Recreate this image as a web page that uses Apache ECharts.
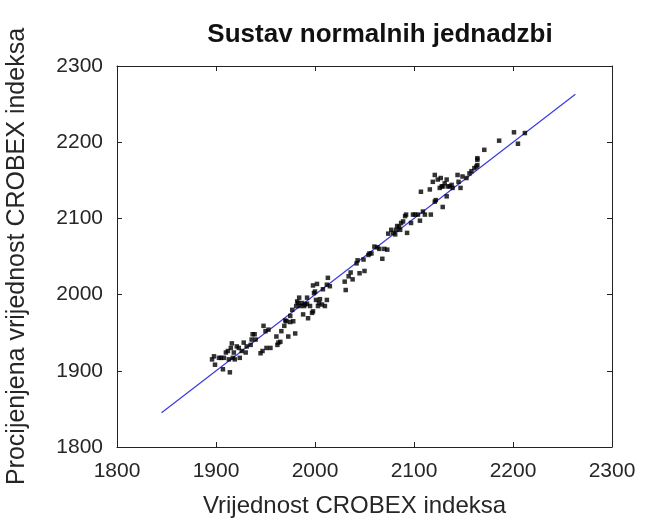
<!DOCTYPE html>
<html>
<head>
<meta charset="utf-8">
<script src="https://cdn.jsdelivr.net/npm/echarts@6/dist/echarts.min.js"></script>
<style>
  html, body { margin: 0; padding: 0; background: #fff; }
  #chart { width: 659px; height: 520px; }
</style>
</head>
<body>
<div id="chart"></div>
<script>
var actual = [1896, 1898, 1899, 1903, 1905, 1907, 1908, 1910, 1912, 1913, 1914, 1915, 1916, 1917, 1918, 1919, 1921, 1923, 1924, 1926,
    1928, 1930, 1931, 1935, 1936, 1937, 1939, 1940, 1945, 1947, 1948, 1950, 1951, 1953, 1955, 1961, 1962, 1963, 1965, 1966,
    1969, 1970, 1971, 1973, 1975, 1977, 1975, 1978, 1980, 1981, 1982, 1983, 1984, 1985, 1987, 1988, 1989, 1990, 1992, 1992,
    1993, 1995, 1997, 1998, 1999, 2000, 1998, 2001, 2002, 2003, 2004, 2005, 2007, 2008, 2010, 2012, 2012, 2013, 2015,
    2030, 2031, 2034, 2036, 2038, 2042, 2043, 2045, 2049, 2050, 2054, 2055, 2057, 2060, 2063, 2065, 2068, 2070, 2073, 2074,
    2077, 2079, 2081, 2082, 2083, 2085, 2086, 2087, 2089, 2091, 2092, 2093, 2097, 2099, 2101, 2104, 2106, 2109, 2111, 2117,
    2107, 2116, 2119, 2121, 2121, 2122, 2124, 2126, 2127, 2128, 2129, 2129, 2131, 2133, 2133, 2134, 2136, 2138, 2139, 2144,
    2145, 2147, 2149, 2153, 2156, 2158, 2161, 2163, 2164, 2164, 2164, 2171, 2186, 2201, 2205, 2212];
var estimated = [1915, 1919, 1908, 1917, 1917, 1902, 1917, 1924, 1926, 1915, 1898, 1930, 1936, 1917, 1924, 1915, 1932, 1930, 1917, 1926,
    1937, 1924, 1932, 1934, 1941, 1948, 1948, 1941, 1923, 1926, 1959, 1952, 1930, 1954, 1930, 1945, 1934, 1937, 1938, 1952,
    1959, 1966, 1965, 1945, 1972, 1980, 1964, 1965, 1949, 1985, 1991, 1989, 1996, 1985, 1989, 1974, 1985, 1987, 1988, 1996,
    1969, 1985, 1976, 1978, 2002, 2004, 2012, 1993, 2014, 1985, 1989, 1994, 1987, 2007, 1985, 1993, 2013, 2022, 2011,
    2017, 2006, 2024, 2029, 2020, 2041, 2045, 2028, 2046, 2031, 2052, 2054, 2054, 2063, 2062, 2060, 2047, 2060, 2059, 2080,
    2085, 2081, 2079, 2085, 2090, 2089, 2085, 2094, 2096, 2103, 2105, 2081, 2094, 2105, 2105, 2105, 2097, 2109, 2105, 2105,
    2135, 2138, 2148, 2157, 2122, 2124, 2151, 2140, 2153, 2142, 2142, 2115, 2146, 2129, 2151, 2142, 2142, 2144, 2140, 2157,
    2148, 2140, 2155, 2153, 2159, 2162, 2166, 2168, 2177, 2179, 2170, 2190, 2202, 2213, 2198, 2212];
var fitLine = [[1845, 1845], [2263, 2263]];
var axisTicks = [1800, 1900, 2000, 2100, 2200, 2300];

var points = [];
for (var i = 0; i < actual.length; i++) {
    points.push([actual[i], estimated[i]]);
}

var font = 'Liberation Sans, Arial, sans-serif';
var chart = echarts.init(document.getElementById('chart'));

function axisBase(pos, showLabel) {
    return {
        type: 'value',
        position: pos,
        min: axisTicks[0],
        max: axisTicks[axisTicks.length - 1],
        interval: 100,
        splitLine: { show: false },
        axisLine: { show: true, onZero: false, lineStyle: { color: '#222', width: 1 } },
        axisTick: { show: true, inside: true, length: 5, lineStyle: { color: '#222' } },
        axisLabel: {
            show: showLabel, color: '#262626', fontSize: 21, fontFamily: font, margin: 14,
            formatter: function (v) { return String(v); }
        }
    };
}

var xMain = axisBase('bottom', true);
xMain.name = 'Vrijednost CROBEX indeksa';
xMain.nameLocation = 'middle';
xMain.nameGap = 47;
xMain.nameTextStyle = { color: '#262626', fontSize: 24, fontFamily: font, padding: [0, 20, 0, 0] };
var yMain = axisBase('left', true);
yMain.name = 'Procijenjena vrijednost CROBEX indeksa';
yMain.nameLocation = 'middle';
yMain.nameGap = 87;
yMain.nameTextStyle = { color: '#262626', fontSize: 25, fontFamily: font };

chart.setOption({
    animation: false,
    title: {
        text: 'Sustav normalnih jednadzbi',
        left: 375,
        textAlign: 'center',
        top: 17,
        textStyle: { fontSize: 26, fontWeight: 'bold', color: '#111', fontFamily: font }
    },
    grid: { left: 117, right: 47, top: 66, bottom: 73, outerBoundsMode: 'none' },
    xAxis: [xMain, axisBase('top', false)],
    yAxis: [yMain, axisBase('right', false)],
    series: [{
        type: 'line',
        data: fitLine,
        symbol: 'none',
        lineStyle: { color: '#3a3ae0', width: 1.2 },
        z: 2
    }, {
        type: 'scatter',
        data: points,
        symbol: 'rect',
        symbolSize: 4.5,
        itemStyle: { color: '#000' },
        z: 3
    }]
});
</script>
</body>
</html>
